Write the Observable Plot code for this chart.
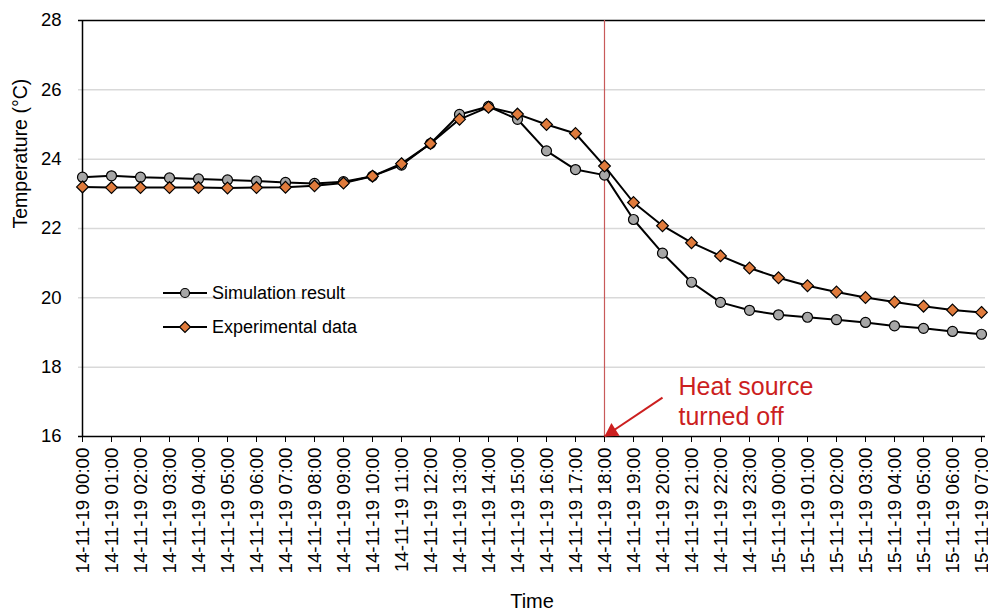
<!DOCTYPE html>
<html><head><meta charset="utf-8">
<script src="https://cdn.jsdelivr.net/npm/d3@7"></script>
<script src="https://cdn.jsdelivr.net/npm/@observablehq/plot@0.6"></script>
<style>
body{margin:0;background:#fff;font-family:"Liberation Sans",Arial,sans-serif;}
#wrap{position:relative;width:988px;height:614px;overflow:hidden;}
#legend{position:absolute;left:163px;top:276px;font-size:18px;color:#000;line-height:34px;}
#legend div{display:flex;align-items:center;height:34px;}
#legend svg{margin-right:3px;}
</style>
</head><body><div id="wrap"><div id="legend"></div></div>
<script>
const times = [
  "14-11-19 00:00","14-11-19 01:00","14-11-19 02:00","14-11-19 03:00","14-11-19 04:00","14-11-19 05:00",
  "14-11-19 06:00","14-11-19 07:00","14-11-19 08:00","14-11-19 09:00","14-11-19 10:00","14-11-19 11:00",
  "14-11-19 12:00","14-11-19 13:00","14-11-19 14:00","14-11-19 15:00","14-11-19 16:00","14-11-19 17:00",
  "14-11-19 18:00","14-11-19 19:00","14-11-19 20:00","14-11-19 21:00","14-11-19 22:00","14-11-19 23:00",
  "15-11-19 00:00","15-11-19 01:00","15-11-19 02:00","15-11-19 03:00","15-11-19 04:00","15-11-19 05:00",
  "15-11-19 06:00","15-11-19 07:00"
];
const simulation = [23.48,23.52,23.48,23.46,23.43,23.40,23.37,23.33,23.30,23.35,23.51,23.83,24.45,25.29,25.52,25.15,
  24.24,23.70,23.54,22.26,21.29,20.45,19.87,19.64,19.51,19.44,19.37,19.29,19.19,19.12,19.03,18.95];
const experimental = [23.20,23.18,23.18,23.18,23.18,23.17,23.18,23.19,23.23,23.31,23.51,23.87,24.45,25.15,25.50,25.30,
  25.00,24.74,23.80,22.75,22.08,21.59,21.21,20.86,20.58,20.35,20.17,20.01,19.88,19.76,19.65,19.58];
const yTicks = [16,18,20,22,24,26,28];
const gridTicks = [18,20,22,24,26];
const seriesNames = ["Simulation result","Experimental data"];
const offTime = "14-11-19 18:00";
const arrowStart = {t:"14-11-19 20:00", v:17.12};
const noteValue = 17.04;
const noteText = "Heat source\nturned off";

const rows = times.map((t,i)=>({t, sim:simulation[i], exp:experimental[i]}));
const font = '"Liberation Sans", Arial, sans-serif';
const red = "#cc1f1f";

const chart = Plot.plot({
  width:988, height:614,
  marginTop:20, marginLeft:78, marginRight:3, marginBottom:178,
  style:{fontFamily:font, color:"#000", background:"#fff"},
  x:{type:"point", domain:times, padding:0},
  y:{domain:[16,28]},
  marks:[
    Plot.ruleY(gridTicks, {stroke:"#d9d9d9", strokeWidth:1.5}),
    Plot.ruleY([28], {stroke:"#000", strokeWidth:1.5}),
    Plot.ruleX([offTime], {stroke:"#c85a5a", strokeWidth:1.2}),
    Plot.axisY({ticks:yTicks, tickSize:0, tickPadding:17, label:null, fontSize:18.5, tickFormat:d=>d}),
    Plot.axisX({tickSize:6, tickPadding:5, tickRotate:-90, label:null, fontSize:18.8, stroke:"#000"}),
    Plot.ruleX([times[0]], {stroke:"#000", strokeWidth:1.5}),
    Plot.ruleY([16], {stroke:"#000", strokeWidth:1.5}),
    Plot.text(["Time"], {frameAnchor:"bottom", dy:171, fontSize:20, fill:"#000"}),
    Plot.text(["Temperature (°C)"], {frameAnchor:"left", rotate:-90, dx:-58, fontSize:19.5, fill:"#000"}),
    Plot.line(rows, {x:"t", y:"sim", stroke:"#000", strokeWidth:2}),
    Plot.dot(rows, {x:"t", y:"sim", r:5, fill:"#a6a6a6", stroke:"#000", strokeWidth:1.2}),
    Plot.line(rows, {x:"t", y:"exp", stroke:"#000", strokeWidth:2}),
    Plot.dot(rows, {x:"t", y:"exp", symbol:"diamond2", r:5.3, fill:"#e07b3c", stroke:"#000", strokeWidth:1.2}),
    Plot.link([arrowStart], {x1:"t", y1:"v", x2:()=>offTime, y2:()=>16, stroke:red, strokeWidth:2}),
    Plot.dot([offTime], {x:d=>d, y:()=>16, symbol:"triangle", r:5.6, rotate:237.4, dx:7.3, dy:-4.7, fill:red, stroke:"none"}),
    Plot.text([noteText], {x:()=>offTime, y:()=>noteValue, dx:74, textAnchor:"start", lineHeight:1.2, fontSize:25, fill:red})
  ]
});
document.getElementById("wrap").prepend(chart);

// legend
const legend = document.getElementById("legend");
seriesNames.forEach((name,i)=>{
  const row = document.createElement("div");
  const sym = i===0
    ? '<circle cx="22" cy="8" r="4.5" fill="#a6a6a6" stroke="#000" stroke-width="1.2"/>'
    : '<path d="M22,2.5 L27.5,8 L22,13.5 L16.5,8 Z" fill="#e07b3c" stroke="#000" stroke-width="1.2"/>';
  row.innerHTML = `<svg width="46" height="16"><line x1="0" y1="8" x2="44" y2="8" stroke="#000" stroke-width="2"/>${sym}</svg><span>${name}</span>`;
  legend.appendChild(row);
});
</script>
</body></html>
